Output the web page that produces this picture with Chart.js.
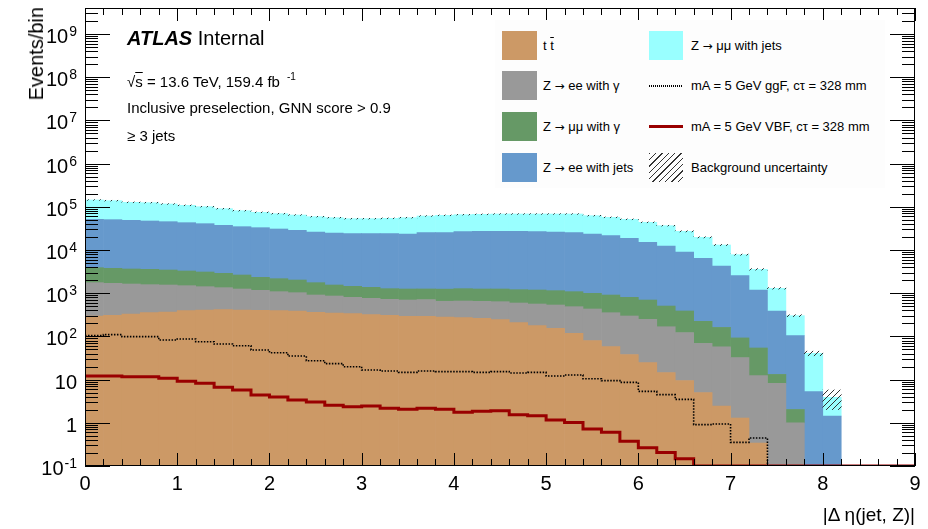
<!DOCTYPE html>
<html>
<head>
<meta charset="utf-8">
<script src="https://cdn.jsdelivr.net/npm/chart.js@4.4.0/dist/chart.umd.min.js"></script>
<style>
  body { margin: 0; background: #fff; }
  #wrap { position: relative; width: 928px; height: 529px; font-family: 'Liberation Sans', Arial, Helvetica, sans-serif; color: #000; }
  #hist { position: absolute; left: 0; top: 0; }
  .t { position: absolute; white-space: nowrap; line-height: 1; }
  .sw { position: absolute; }
  .leg { font-size: 13px; }
  .ann { font-size: 15px; }
  .ar { font-family: 'DejaVu Sans', sans-serif; font-size: 12px; }
</style>
</head>
<body>
<div id="wrap">
  <canvas id="hist" width="928" height="529"></canvas>

  <div class="sw" style="left:495px; top:20px; width:390px; height:168px; background:#fdfdfd;"></div>

  <div class="t" style="left:25.5px; top:7px; font-size:20px; writing-mode:vertical-rl; transform:rotate(180deg);">Events/bin</div>
  <div class="t" style="right:13px; top:505px; font-size:19px;">|&Delta; &eta;(jet, Z)|</div>

  <div class="t" style="left:127px; top:28px; font-size:20px;"><b><i>ATLAS</i></b> Internal</div>
  <div class="t ann" style="left:127px; top:73.5px;">&radic;<span style="text-decoration:overline">s</span> = 13.6 TeV, 159.4 fb<span style="position:relative; top:-7px; font-size:10px; margin-left:7px;">-1</span></div>
  <div class="t ann" style="left:127px; top:100px;">Inclusive preselection, GNN score &gt; 0.9</div>
  <div class="t ann" style="left:127px; top:127.5px;">&ge; 3 jets</div>

  <div class="sw" style="left:502px; top:30.5px; width:35px; height:29px; background:#cc9966;"></div>
  <div class="sw" style="left:502px; top:71px; width:35px; height:29px; background:#999999;"></div>
  <div class="sw" style="left:502px; top:111.5px; width:35px; height:29px; background:#669966;"></div>
  <div class="sw" style="left:502px; top:152.5px; width:35px; height:29px; background:#6699cc;"></div>
  <div class="t leg" style="left:543px; top:38.5px;">t <span style="text-decoration:overline">t</span></div>
  <div class="t leg" style="left:543px; top:79px;">Z <span class="ar">&rarr;</span> ee with &gamma;</div>
  <div class="t leg" style="left:543px; top:119.5px;">Z <span class="ar">&rarr;</span> &mu;&mu; with &gamma;</div>
  <div class="t leg" style="left:543px; top:160.5px;">Z <span class="ar">&rarr;</span> ee with jets</div>

  <div class="sw" style="left:649px; top:30.5px; width:34px; height:29px; background:#99ffff;"></div>
  <div class="sw" style="left:649px; top:85px; width:34px; height:2px; background:repeating-linear-gradient(90deg, #000 0 1px, transparent 1px 2px);"></div>
  <div class="sw" style="left:649px; top:124.5px; width:34px; height:3px; background:#990000;"></div>
  <div class="sw" style="left:649px; top:152.5px; width:34px; height:29px; background:repeating-linear-gradient(135deg, #333 0 1px, transparent 1px 4.5px);"></div>
  <div class="t leg" style="left:691px; top:38.5px;">Z <span class="ar">&rarr;</span> &mu;&mu; with jets</div>
  <div class="t leg" style="left:691px; top:79px;">mA = 5 GeV ggF, c&tau; = 328 mm</div>
  <div class="t leg" style="left:691px; top:119.5px;">mA = 5 GeV VBF, c&tau; = 328 mm</div>
  <div class="t leg" style="left:691px; top:160.5px;">Background uncertainty</div>
</div>

<script>
// |delta eta(jet, Z)| bins, 0.2 wide
const binLow = [0, 0.2, 0.4, 0.6, 0.8, 1.0, 1.2, 1.4, 1.6, 1.8,
  2.0, 2.2, 2.4, 2.6, 2.8, 3.0, 3.2, 3.4, 3.6, 3.8,
  4.0, 4.2, 4.4, 4.6, 4.8, 5.0, 5.2, 5.4, 5.6, 5.8,
  6.0, 6.2, 6.4, 6.6, 6.8, 7.0, 7.2, 7.4, 7.6, 7.8,
  8.0, 8.2, 8.4, 8.6, 8.8];
const binWidth = 0.2;

// backgrounds, stacked bottom to top
const ttbar = [297, 307, 330, 354, 367, 394, 408, 416, 408, 401,
  394, 387, 361, 348, 336, 319, 307, 291, 291, 281,
  271, 262, 244, 208, 177, 154, 118, 80, 58, 38,
  24.7, 14.5, 9.5, 5.0, 2.45, 1.29, 0.34, 0, 0, 0,
  0, 0, 0, 0, 0];
const zeeGamma = [1456, 1385, 1303, 1222, 1181, 1100, 1009, 927, 843, 764,
  691, 642, 547, 513, 466, 442, 414, 405, 420, 370,
  389, 386, 393, 385, 385, 379, 370, 351, 296, 259,
  223, 153, 113, 64, 55, 31, 12.0, 8.2, 1.0, 0,
  0, 0, 0, 0, 0];
const zmmGamma = [2147, 2071, 2000, 1993, 1896, 1771, 1679, 1541, 1387, 1165,
  1085, 992, 845, 687, 640, 606, 552, 555, 543, 591,
  613, 603, 614, 614, 624, 612, 597, 562, 554, 505,
  448, 337, 265, 154, 104, 60, 41.6, 5.0, 1.04, 0,
  0, 0, 0, 0, 0];
const zeeJets = [47380, 46620, 44990, 43350, 41840, 39660, 37590, 34360, 32050, 30560,
  28460, 26510, 24350, 23200, 22440, 22510, 22610, 22210, 23940, 23940,
  25300, 25800, 25800, 25840, 25380, 24960, 24100, 22470, 20560, 17830,
  14350, 11880, 8600, 6190, 4100, 2454, 1132, 374, 102, 5.26,
  1.44, 0, 0, 0, 0];
const zmmJets = [92420, 88320, 78280, 77780, 70820, 65180, 60010, 53260, 46710, 41560,
  38730, 36060, 33000, 31290, 29250, 29250, 30200, 32580, 36050, 38270,
  39180, 39880, 41080, 41080, 41560, 42030, 42940, 38880, 35570, 32650,
  28640, 24210, 18060, 13240, 8800, 5254, 2383, 909, 198, 35.3,
  2.45, 0, 0, 0, 0];

// relative background uncertainty per bin
const bkgRelErr = [0.02, 0.02, 0.02, 0.02, 0.02, 0.02, 0.02, 0.02, 0.02, 0.02,
  0.02, 0.02, 0.02, 0.02, 0.02, 0.02, 0.02, 0.02, 0.02, 0.02,
  0.02, 0.02, 0.02, 0.02, 0.02, 0.02, 0.02, 0.02, 0.02, 0.02,
  0.02, 0.02, 0.03, 0.03, 0.03, 0.03, 0.04, 0.04, 0.05, 0.12,
  0.48, 0, 0, 0, 0];

// signals (not stacked)
const ggF = [104, 110, 98.6, 98.6, 82.5, 87.1, 75.5, 66.7, 61.0, 48.4,
  42.0, 35.2, 27.4, 23.4, 19.9, 16.7, 15.8, 14.7, 15.8, 15.3,
  15.3, 14.7, 15.3, 14.2, 14.7, 12.1, 12.8, 10.5, 9.45, 8.64,
  5.35, 4.48, 3.49, 0.905, 0.938, 0.353, 0.445, 0, 0, 0,
  0, 0, 0, 0, 0];
const vbf = [12.1, 12.1, 11.7, 11.7, 10.7, 9.12, 8.20, 6.62, 5.74, 4.40,
  3.96, 3.37, 3.03, 2.54, 2.36, 2.45, 2.16, 2.05, 2.16, 2.05,
  1.75, 1.84, 1.91, 1.54, 1.46, 1.16, 1.01, 0.719, 0.602, 0.372,
  0.266, 0.204, 0.148, 0, 0, 0, 0, 0, 0, 0,
  0, 0, 0, 0, 0];

const xTicks = [0, 1, 2, 3, 4, 5, 6, 7, 8, 9];
const yTickValues = [0.1, 1, 10, 1e2, 1e3, 1e4, 1e5, 1e6, 1e7, 1e8, 1e9];
const yTickLabels = [['10', '-1'], ['1', ''], ['10', ''], ['10', '2'], ['10', '3'], ['10', '4'],
  ['10', '5'], ['10', '6'], ['10', '7'], ['10', '8'], ['10', '9']];

const FONT = "'Liberation Sans', Arial, Helvetica, sans-serif";
const xMax = 9;
const yMin = 0.1;

function histPoints(vals) {
  return vals.map((v, i) => ({x: binLow[i] + binWidth / 2, y: v}));
}
// empty bins sit on the axis floor, like ROOT draws them
function stepPoints(vals) {
  const pts = vals.map((v, i) => ({x: binLow[i], y: v > 0 ? v : yMin}));
  pts.push({x: xMax, y: pts[pts.length - 1].y});
  return pts;
}

const total = binLow.map((_, i) => ttbar[i] + zeeGamma[i] + zmmGamma[i] + zeeJets[i] + zmmJets[i]);
const band = total.map((t, i) => ({
  x: binLow[i] + binWidth / 2,
  y: t > 0 ? [t * (1 - bkgRelErr[i]), t * (1 + bkgRelErr[i])] : null
}));

// hatch for the uncertainty band
const pc = document.createElement('canvas');
pc.width = 6; pc.height = 6;
const pctx = pc.getContext('2d');
pctx.strokeStyle = '#333';
pctx.lineWidth = 1;
pctx.beginPath();
pctx.moveTo(0, 6); pctx.lineTo(6, 0);
pctx.moveTo(-1, 1); pctx.lineTo(1, -1);
pctx.moveTo(5, 7); pctx.lineTo(7, 5);
pctx.stroke();
const hatch = pctx.createPattern(pc, 'repeat');

function bkg(label, vals, color) {
  return {
    type: 'bar', label: label, data: histPoints(vals), backgroundColor: color,
    borderWidth: 0, stack: 'bkg', order: 0, barPercentage: 1, categoryPercentage: 1
  };
}

const atlasFrame = {
  id: 'atlasFrame',
  afterDatasetsDraw(chart) {
    const {ctx, chartArea: a} = chart;
    const xs = chart.scales.x, ys = chart.scales.y;
    ctx.save();
    ctx.strokeStyle = '#000';
    ctx.lineWidth = 1;
    ctx.beginPath();
    for (let k = 0; k <= 45; k++) {
      const px = Math.round(xs.getPixelForValue(k * binWidth)) + 0.5;
      const len = k % 5 === 0 ? 13 : 7;
      ctx.moveTo(px, a.bottom); ctx.lineTo(px, a.bottom - len);
      ctx.moveTo(px, a.top); ctx.lineTo(px, a.top + len);
    }
    yTickValues.forEach(dec => {
      for (let m = 1; m <= 9; m++) {
        const v = m * dec;
        if (v > ys.max) break;
        const py = Math.round(ys.getPixelForValue(v)) + 0.5;
        const len = m === 1 ? 25 : 13;
        ctx.moveTo(a.left, py); ctx.lineTo(a.left + len, py);
        ctx.moveTo(a.right, py); ctx.lineTo(a.right - len, py);
      }
    });
    ctx.stroke();
    ctx.strokeRect(Math.round(a.left) + 0.5, Math.round(a.top) + 0.5,
      Math.round(a.right - a.left) - 1, Math.round(a.bottom - a.top) - 1);

    // y labels with exponents
    ctx.fillStyle = '#000';
    ctx.textAlign = 'right';
    ctx.textBaseline = 'alphabetic';
    yTickValues.forEach((v, i) => {
      const py = ys.getPixelForValue(v);
      const [base, exp] = yTickLabels[i];
      let right = 77;
      if (exp) {
        ctx.font = '14px ' + FONT;
        ctx.fillText(exp, right, py + 2);
        right -= ctx.measureText(exp).width + 1;
      }
      ctx.font = '20px ' + FONT;
      ctx.fillText(base, right, py + 9);
    });
    ctx.restore();
  }
};

new Chart(document.getElementById('hist'), {
  type: 'bar',
  data: {
    datasets: [
      bkg('t t\u0304', ttbar, '#cc9966'),
      bkg('Z \u2192 ee with \u03b3', zeeGamma, '#999999'),
      bkg('Z \u2192 \u03bc\u03bc with \u03b3', zmmGamma, '#669966'),
      bkg('Z \u2192 ee with jets', zeeJets, '#6699cc'),
      bkg('Z \u2192 \u03bc\u03bc with jets', zmmJets, '#99ffff'),
      {
        type: 'bar', label: 'Background uncertainty', data: band, backgroundColor: hatch,
        borderWidth: 0, stack: 'unc', grouped: false, order: -1,
        barPercentage: 1, categoryPercentage: 1
      },
      {
        type: 'line', label: 'mA = 5 GeV ggF, c\u03c4 = 328 mm', data: stepPoints(ggF),
        stepped: true, borderColor: '#000', borderWidth: 1.6, borderDash: [1.5, 1.5],
        pointRadius: 0, fill: false, stack: 'ggf', order: -2
      },
      {
        type: 'line', label: 'mA = 5 GeV VBF, c\u03c4 = 328 mm', data: stepPoints(vbf),
        stepped: true, borderColor: '#990000', borderWidth: 3,
        pointRadius: 0, fill: false, stack: 'vbf', order: -2
      }
    ]
  },
  options: {
    responsive: false,
    animation: false,
    devicePixelRatio: 1,
    layout: {padding: {top: 8, right: 13, left: 0, bottom: 0}},
    plugins: {legend: {display: false}, tooltip: {enabled: false}},
    scales: {
      x: {
        type: 'linear', min: 0, max: xMax, stacked: true, offset: false,
        grid: {display: false, drawTicks: false}, border: {display: false},
        afterBuildTicks: s => { s.ticks = xTicks.map(v => ({value: v})); },
        ticks: {autoSkip: false, maxRotation: 0, color: '#000', padding: 6, font: {family: FONT, size: 20}},
        afterFit: s => { s.height = 63; }
      },
      y: {
        type: 'logarithmic', min: yMin, max: 4e9, stacked: true,
        grid: {display: false, drawTicks: false}, border: {display: false},
        ticks: {display: false},
        afterFit: s => { s.width = 85; }
      }
    }
  },
  plugins: [atlasFrame]
});
</script>
</body>
</html>
